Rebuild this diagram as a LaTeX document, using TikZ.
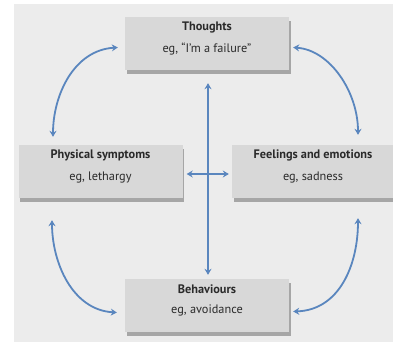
\documentclass[tikz,border=0pt]{standalone}
\usepackage{fontspec}
\setmainfont{PT Sans}
\usetikzlibrary{arrows.meta,calc}
\definecolor{panel}{HTML}{ECECEC}
\definecolor{boxfill}{HTML}{D8D8D8}
\definecolor{boxshade}{HTML}{A6A6A6}
\definecolor{link}{HTML}{5A86BE}
\definecolor{ink}{HTML}{2A2A2A}
\tikzset{
  box/.style={fill=boxfill, minimum width=164pt, minimum height=53pt,
    inner sep=0pt, draw=none,
    preaction={fill=boxshade, transform canvas={xshift=1.5pt, yshift=-4pt}},
    label={[text=ink, align=center, yshift=5pt,
      font=\fontsize{12.3}{22}\selectfont]center:#1}},
  link/.style={draw=link, line width=1.8pt,
    {Stealth[length=6pt,width=7pt]}-{Stealth[length=6pt,width=7pt]}},
}
\begin{document}
\begin{tikzpicture}[x=1pt,y=-1pt]
  \useasboundingbox (0,0) rectangle (393,342);
  \fill[white] (0,0) rectangle (393,342);
  \fill[panel] (14,4) rectangle (393,342);

  \node[box={\textbf{Thoughts}\\eg, “I’m a failure”}] (thoughts) at (207,43.5) {};
  \node[box={\textbf{Physical symptoms}\\eg, lethargy}] (physical) at (100.5,171.5) {};
  \node[box={\textbf{Feelings and emotions}\\eg, sadness}, minimum width=162pt] (feelings) at (313,171.5) {};
  \node[box={\textbf{Behaviours}\\[-2pt]eg, avoidance}] (behaviours) at (207,305.5) {};

  % central cross
  \draw[link] ($(thoughts.south)+(1,13)$) -- ($(behaviours.north)+(1,-4)$);
  \draw[link] ($(physical.east)+(4,2.5)$) -- ($(feelings.west)+(-3,2.5)$);

  % outer loop
  \draw[link] ($(physical.north)+(-47.5,-8)$) .. controls (53,95) and (74,50) .. ($(thoughts.west)+(-7,4)$);
  \draw[link] ($(thoughts.east)+(4,4)$) .. controls (330,50) and (358,92) .. ($(feelings.north)+(45,-10)$);
  \draw[link] ($(physical.south)+(-48.5,22)$) .. controls (52,262) and (72,310) .. ($(behaviours.west)+(-8,7)$);
  \draw[link] ($(feelings.south)+(45,20)$) .. controls (358,264) and (340,310) .. ($(behaviours.east)+(4,6)$);
\end{tikzpicture}
\end{document}
